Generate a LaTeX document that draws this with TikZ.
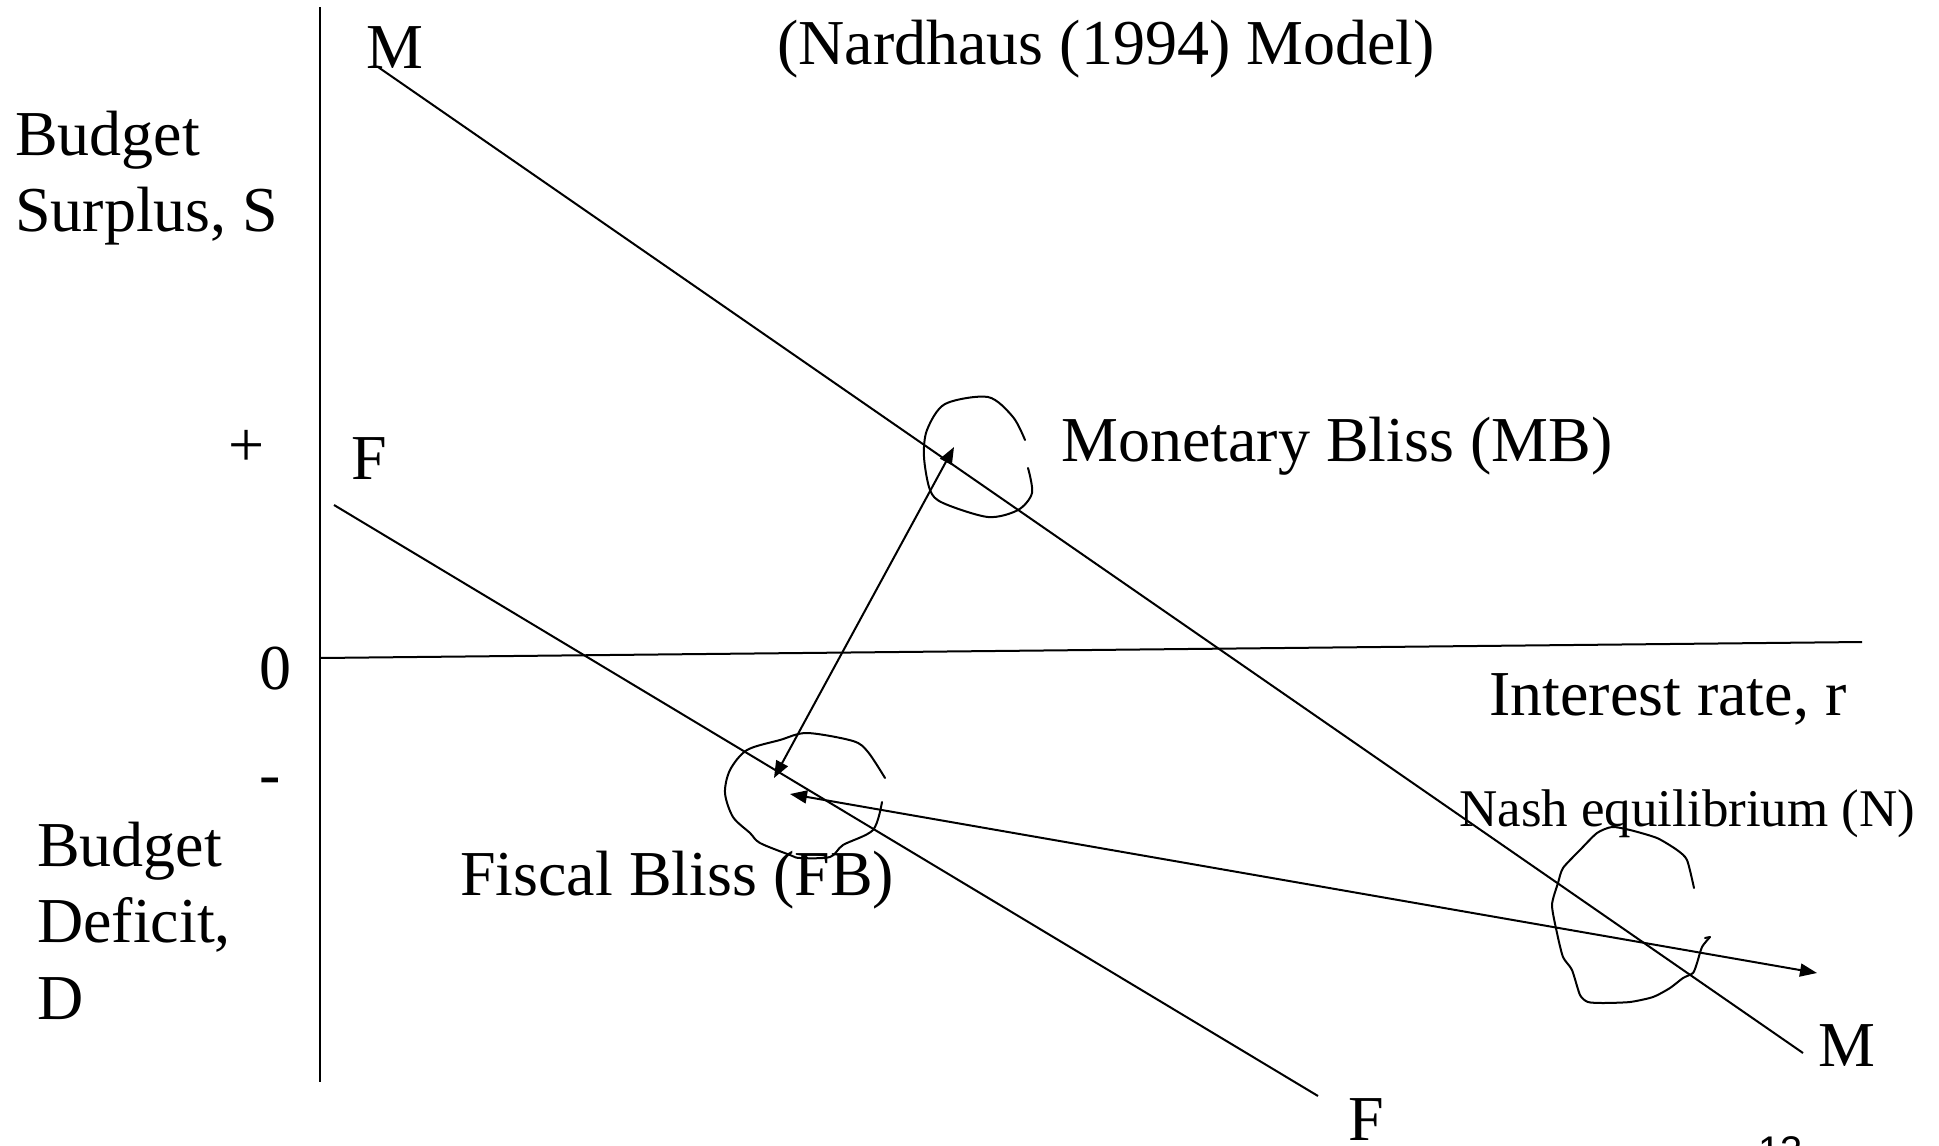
\documentclass[tikz,border=0pt]{standalone}
\usepackage{fontspec}
\setmainfont{Liberation Serif}
\newfontfamily\pagenumfont{Liberation Sans}
\usetikzlibrary{arrows.meta}
\begin{document}
\begin{tikzpicture}[x=1pt,y=-1pt,
  lbl/.style={inner sep=0pt, anchor=base west, font=\fontsize{64}{76}\selectfont},
  lblc/.style={inner sep=0pt, anchor=base, font=\fontsize{64}{76}\selectfont},
  smalllbl/.style={inner sep=0pt, anchor=base west, font=\fontsize{53}{64}\selectfont},
  ln/.style={line width=2pt},
  scrib/.style={line width=2pt, line join=round, line cap=round},
  dbl/.style={line width=2pt, {Triangle[length=17pt,width=13pt]}-{Triangle[length=17pt,width=13pt]}}]
\useasboundingbox (0,0) rectangle (1939,1146);
\fill[white] (0,0) rectangle (1939,1146);

% coordinates
\coordinate (vtop) at (320,7);
\coordinate (vbot) at (320,1082);
\coordinate (hl) at (320,658);
\coordinate (hr) at (1862,642);
\coordinate (m1) at (378,67);
\coordinate (m2) at (1803,1053);
\coordinate (f1) at (334,505);
\coordinate (f2) at (1318,1096);
\coordinate (mb) at (954,447);
\coordinate (fb) at (774,778);
\coordinate (fbn) at (790,794);
\coordinate (ne) at (1817,973);

% axes and lines
\draw[ln] (vtop) -- (vbot);
\draw[ln] (hl) -- (hr);
\draw[ln] (m1) -- (m2);
\draw[ln] (f1) -- (f2);

% arrows
\draw[dbl] (fb) -- (mb);
\draw[dbl] (fbn) -- (ne);

% scribbled circles
\draw[scrib] plot[smooth, tension=0.5] coordinates {(1025,440) (1013,417) (988,397) (945,404) (927,430) (924,457) (930,490) (943,503) (988,517) (1018,510) (1032,493) (1028,468)};
\draw[scrib] plot[smooth, tension=0.5] coordinates {(885,778) (868,752) (853,741) (807,733) (780,740) (747,750) (730,770) (725,793) (733,817) (750,833) (760,843) (790,855) (800,858) (830,857) (843,845) (873,830) (882,802)};
\draw[scrib] plot[smooth, tension=0.4] coordinates {(1694,888) (1687,860) (1677,850) (1657,838) (1630,830) (1612,827) (1597,833) (1580,850) (1563,868) (1558,883) (1552,905) (1557,933) (1563,957) (1572,970) (1580,995) (1588,1002) (1603,1003) (1630,1002) (1653,997) (1670,988) (1683,978) (1693,973) (1697,963) (1702,947) (1710,937)};
\draw[scrib] (1710,937) -- (1705,938);

% labels
\node[lbl] (bs1) at (15,155) {Budget};
\node[lbl] (bs2) at (15,231) {Surplus, S};
\node[lbl] (mtop) at (366,68) {M};
\node[lbl] (title) at (777,64) {(Nardhaus (1994) Model)};
\node[lblc] (plus) at (247,466) {+};
\node[lbl] (ftop) at (351,479) {F};
\node[lbl] (mbl) at (1061,461) {Monetary Bliss (MB)};
\node[lblc] (zero) at (275,689) {0};
\node[lbl] (ir) at (1489,715) {Interest rate, r};
\node[lblc] (minus) at (270,795) {-};
\node[smalllbl] (nash) at (1459,826) {Nash equilibrium (N)};
\node[lbl] (bd1) at (37,866) {Budget};
\node[lbl] (bd2) at (37,942) {Deficit,};
\node[lbl] (bd3) at (37,1019) {D};
\node[lbl] (fbl) at (460,895) {Fiscal Bliss (FB)};
\node[lbl] (mbot) at (1818,1066) {M};
\node[lbl] (fbot) at (1348,1140) {F};
\node[inner sep=0pt, anchor=base west, font=\pagenumfont\fontsize{40}{48}\selectfont] (pg) at (1758,1164) {13};
\end{tikzpicture}
\end{document}
